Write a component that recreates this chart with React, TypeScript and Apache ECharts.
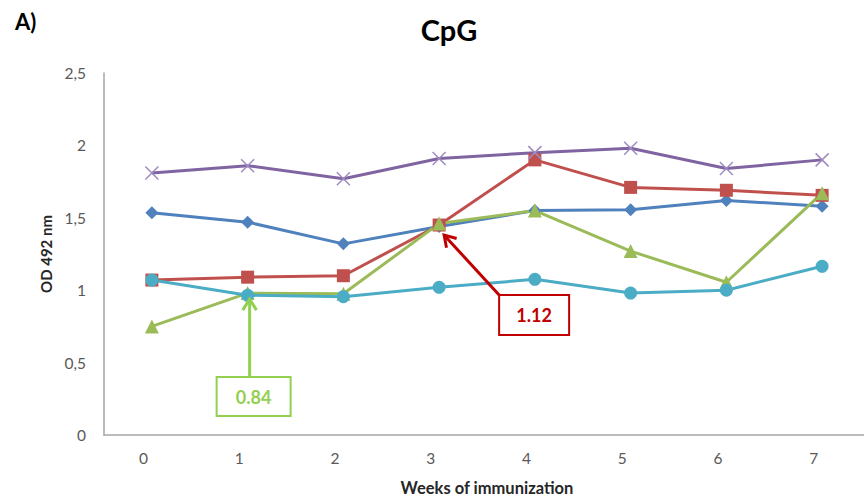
import React, { useEffect, useRef } from 'react';
import * as echarts from 'echarts';

const weeks = ['0', '1', '2', '3', '4', '5', '6', '7'];
const yTickLabels = ['0', '0,5', '1', '1,5', '2', '2,5'];
const blueValues = [1.535, 1.47, 1.32, 1.44, 1.55, 1.555, 1.62, 1.58];
const redValues = [1.07, 1.09, 1.1, 1.45, 1.9, 1.71, 1.69, 1.655];
const greenValues = [0.75, 0.98, 0.975, 1.46, 1.55, 1.27, 1.055, 1.67];
const purpleValues = [1.81, 1.86, 1.77, 1.91, 1.95, 1.98, 1.84, 1.9];
const cyanValues = [1.07, 0.965, 0.955, 1.02, 1.075, 0.98, 1.0, 1.165];
const annotationTexts = ['1.12', '0.84'];

const FONT = 'Lato, "Open Sans", sans-serif';
const crossPath = 'path://M0,0L10,10M10,0L0,10';

function arrowGraphics(tip: number[], tail: number[], color: string) {
  const dx = tail[0] - tip[0];
  const dy = tail[1] - tip[1];
  const len = Math.sqrt(dx * dx + dy * dy);
  const ux = dx / len;
  const uy = dy / len;
  const arm = 13;
  const ang = (32 * Math.PI) / 180;
  const rot = (a: number) => [
    tip[0] + arm * (ux * Math.cos(a) - uy * Math.sin(a)),
    tip[1] + arm * (ux * Math.sin(a) + uy * Math.cos(a)),
  ];
  return [
    {
      type: 'line',
      shape: { x1: tail[0], y1: tail[1], x2: tip[0] + ux * 1.5, y2: tip[1] + uy * 1.5 },
      style: { stroke: color, lineWidth: 3 },
      z: 100,
    },
    {
      type: 'polyline',
      shape: { points: [rot(ang), tip, rot(-ang)] },
      style: { stroke: color, lineWidth: 3, fill: null },
      z: 100,
    },
  ];
}

function boxGraphics(x: number, y: number, w: number, h: number, text: string, color: string) {
  return [
    {
      type: 'rect',
      shape: { x, y, width: w, height: h },
      style: { stroke: color, lineWidth: 2, fill: '#ffffff' },
      z: 100,
    },
    {
      type: 'text',
      x: x + w / 2,
      y: y + h / 2,
      style: {
        text,
        fill: color,
        font: `bold 18px ${FONT}`,
        align: 'center',
        verticalAlign: 'middle',
      },
      z: 101,
    },
  ];
}

export default function App() {
  const ref = useRef<HTMLDivElement>(null);

  useEffect(() => {
    if (!ref.current) return;
    const chart = echarts.init(ref.current, undefined, { renderer: 'svg' });

    const lineSeries = (name: string, data: number[], color: string, symbol: string, size: number, extra: any = {}) => ({
      name,
      type: 'line',
      data,
      symbol,
      symbolSize: size,
      lineStyle: { color, width: 3 },
      itemStyle: { color, ...extra },
      emphasis: { disabled: true },
    });

    chart.setOption({
      animation: false,
      backgroundColor: '#ffffff',
      textStyle: { fontFamily: FONT },
      grid: { left: 104, top: 73, width: 766, height: 362, containLabel: false, outerBoundsMode: 'none' },
      xAxis: {
        type: 'category',
        data: weeks,
        boundaryGap: true,
        name: 'Weeks of immunization',
        nameLocation: 'middle',
        nameGap: 44,
        nameTextStyle: { fontFamily: FONT, fontWeight: 'bold', fontSize: 16.5, color: '#262626', lineHeight: 18 },
        axisLine: { lineStyle: { color: '#a6a6a6', width: 1.5 } },
        axisTick: { show: false },
        axisLabel: {
          fontFamily: FONT,
          fontSize: 15.5,
          color: '#595959',
          margin: 15,
          padding: [0, 17, 0, 0],
        },
        splitLine: { show: false },
      },
      yAxis: {
        type: 'value',
        min: 0,
        max: 2.5,
        interval: 0.5,
        name: 'OD 492 nm',
        nameLocation: 'middle',
        nameGap: 26,
        nameRotate: 90,
        nameTextStyle: { fontFamily: FONT, fontWeight: 'bold', fontSize: 15, color: '#262626' },
        axisLine: { show: true, lineStyle: { color: '#a6a6a6', width: 1.5 } },
        axisTick: { show: false },
        axisLabel: {
          fontFamily: FONT,
          fontSize: 15.5,
          color: '#595959',
          margin: 18,
          formatter: (v: number) => yTickLabels[Math.round(v / 0.5)] ?? String(v),
        },
        splitLine: { show: false },
      },
      series: [
        lineSeries('Blue', blueValues, '#4F81BD', 'diamond', 13),
        lineSeries('Red', redValues, '#C0504D', 'rect', 13),
        lineSeries('Green', greenValues, '#9BBB59', 'triangle', 14),
        lineSeries('Purple', purpleValues, '#8064A2', crossPath, 13, { borderColor: '#9F8BC2', borderWidth: 1.5 }),
        lineSeries('Cyan', cyanValues, '#4BACC6', 'circle', 13),
      ],
    });

    const pRed = chart.convertToPixel({ seriesIndex: 1 }, [3, redValues[3]]) as number[];
    const pGreen = chart.convertToPixel({ seriesIndex: 2 }, [1, greenValues[1]]) as number[];

    const redColor = '#C00000';
    const greenColor = '#92D050';
    const redTip = [pRed[0] + 5, pRed[1] + 10];
    const redTail = [pRed[0] + 60, pRed[1] + 70];
    const greenTip = [pGreen[0] + 2, pGreen[1] + 6];
    const greenTail = [pGreen[0] + 2, pGreen[1] + 84];

    chart.setOption({
      graphic: [
        {
          type: 'text',
          x: 15,
          y: 21,
          style: { text: 'A)', font: `bold 22px ${FONT}`, fill: '#000000', verticalAlign: 'middle' },
        },
        {
          type: 'text',
          x: 449,
          y: 29,
          style: { text: 'CpG', font: `bold 29px ${FONT}`, fill: '#000000', align: 'center', verticalAlign: 'middle' },
        },
        ...arrowGraphics(redTip, redTail, redColor),
        ...boxGraphics(redTail[0], redTail[1], 70, 40, annotationTexts[0], redColor),
        ...arrowGraphics(greenTip, greenTail, greenColor),
        ...boxGraphics(greenTail[0] - 33, greenTail[1], 74, 39, annotationTexts[1], greenColor),
      ],
    });

    return () => chart.dispose();
  }, []);

  return (
    <div
      ref={ref}
      style={{ position: 'fixed', left: 0, top: 0, width: 864, height: 498, background: '#ffffff' }}
    />
  );
}
